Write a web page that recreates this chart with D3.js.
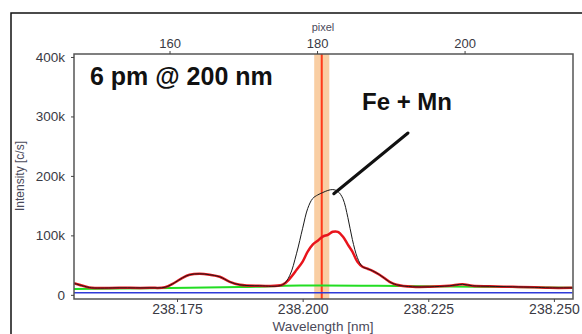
<!DOCTYPE html>
<html>
<head>
<meta charset="utf-8">
<script src="https://cdn.jsdelivr.net/npm/d3@7"></script>
<style>
    body { margin: 0; background: #fff; }
    svg { display: block; font-family: "Liberation Sans", Arial, sans-serif; }
</style>
</head>
<body>
<svg id="chart" width="582" height="334"></svg>
<script>
// wavelength grid (nm) shared by the black and red traces
const wavelengths = [
    238.1545, 238.1566, 238.1580, 238.1636, 238.1696, 238.1726, 238.1745, 238.1761,
    238.1775, 238.1795, 238.1815, 238.1835, 238.1855, 238.1875, 238.1914, 238.1960,
    238.1974, 238.1988, 238.2000, 238.2010, 238.2020, 238.2030, 238.2040, 238.2050,
    238.2060, 238.2070, 238.2080, 238.2090, 238.2099, 238.2109, 238.2119, 238.2129,
    238.2139, 238.2153, 238.2173, 238.2187, 238.2219, 238.2253, 238.2292, 238.2318,
    238.2338, 238.2372, 238.2418, 238.2461, 238.2491, 238.2537
];
// intensity in k c/s
const blackTrace = [
    19.4, 14.3, 11.8, 11.8, 11.8, 12.7, 20.3, 28.7,
    33.8, 35.4, 33.8, 30.4, 21.9, 16.9, 15.2, 16.9,
    32, 70, 112, 145, 162, 168, 172, 175.5,
    177, 174, 162, 130, 92.8, 62.4, 47.3, 43.9,
    40.5, 33.8, 21.9, 16.9, 13.5, 13.5, 15.2, 17.7,
    15.2, 14.3, 13.5, 12.7, 11.8, 11.8
];
const redTrace = [
    19.4, 14.3, 11.8, 11.8, 11.8, 12.7, 20.3, 28.7,
    33.8, 35.4, 33.8, 30.4, 21.9, 16.9, 15.2, 16.9,
    27, 42, 56, 72.6, 84.4, 91, 98, 101,
    106, 106, 98, 84.4, 72.6, 55.7, 47.3, 43.9,
    40.5, 33.8, 21.9, 16.9, 13.5, 13.5, 15.2, 17.7,
    15.2, 14.3, 13.5, 12.7, 11.8, 11.8
];
const greenWl = [238.1545, 238.1696, 238.1875, 238.1995, 238.2190, 238.2537];
const greenTrace = [10, 11, 13, 15.5, 15, 12];
const blueWl = [238.1545, 238.2537];
const blueTrace = [3.5, 3.5];

const xTicks = [238.175, 238.200, 238.225, 238.250];
const yTicks = [0, 100, 200, 300, 400];
const pixelTicks = [160, 180, 200];

// selected line marker
const markerWl = 238.2038;
const markerHalf = 0.0015;

const svg = d3.select('#chart');
const margin = { top: 54, right: 9, bottom: 35, left: 74 };
const width = 582 - margin.left - margin.right;
const height = 334 - margin.top - margin.bottom;

const x = d3.scaleLinear().domain([238.1545, 238.2538]).range([0, width]);
const y = d3.scaleLinear().domain([-7, 405]).range([height, 0]);
// pixel axis on top, linear with wavelength
const px = d3.scaleLinear().domain([147.05, 214.7]).range([0, width]);

// outer frame
svg.append('rect')
    .attr('x', 11).attr('y', 13).attr('width', 600).attr('height', 360)
    .attr('fill', 'none').attr('stroke', '#111').attr('stroke-width', 1.5);

const g = svg.append('g').attr('transform', `translate(${margin.left},${margin.top})`);

// marker band
g.append('rect')
    .attr('x', x(markerWl - markerHalf)).attr('y', 0)
    .attr('width', x(markerWl + markerHalf) - x(markerWl - markerHalf))
    .attr('height', height)
    .attr('fill', '#f8c593').attr('opacity', 0.85);
g.append('line')
    .attr('x1', x(markerWl)).attr('x2', x(markerWl))
    .attr('y1', 0).attr('y2', height)
    .attr('stroke', '#ff3a1a').attr('stroke-width', 2);

const line = d3.line().x(d => x(d[0])).y(d => y(d[1])).curve(d3.curveCatmullRom.alpha(0.5));

g.append('path').datum(blueWl.map((w, i) => [w, blueTrace[i]]))
    .attr('d', line).attr('fill', 'none').attr('stroke', '#2f3bd8').attr('stroke-width', 1.5);
g.append('path').datum(greenWl.map((w, i) => [w, greenTrace[i]]))
    .attr('d', line).attr('fill', 'none').attr('stroke', '#22dd22').attr('stroke-width', 2);
g.append('path').datum(wavelengths.map((w, i) => [w, redTrace[i]]))
    .attr('d', line).attr('fill', 'none').attr('stroke', '#e8141c').attr('stroke-width', 2.5);
g.append('path').datum(wavelengths.map((w, i) => [w, blackTrace[i]]))
    .attr('d', line).attr('fill', 'none').attr('stroke', '#1a1a1a').attr('stroke-width', 1);

// plot frame
g.append('rect')
    .attr('width', width).attr('height', height)
    .attr('fill', 'none').attr('stroke', '#555').attr('stroke-width', 1.5);

// axes
const styleAxis = (sel, size) => {
    sel.select('.domain').remove();
    sel.selectAll('.tick line').attr('stroke', '#444');
    sel.selectAll('.tick text').attr('fill', '#3a3a44').style('font-size', size + 'px');
};

g.append('g')
    .attr('transform', `translate(0,${height})`)
    .call(d3.axisBottom(x).tickValues(xTicks).tickFormat(d3.format('.3f')).tickSize(3).tickPadding(2))
    .call(s => styleAxis(s, 14));

g.append('g')
    .call(d3.axisLeft(y).tickValues(yTicks).tickFormat(d => d === 0 ? '0' : d + 'k').tickSize(3).tickPadding(6))
    .call(s => styleAxis(s, 13.5));

g.append('g')
    .call(d3.axisTop(px).tickValues(pixelTicks).tickSize(3).tickPadding(3))
    .call(s => styleAxis(s, 13));

// axis titles
svg.append('text')
    .attr('x', 323).attr('y', 31)
    .attr('text-anchor', 'middle').attr('fill', '#4a4a5a').style('font-size', '11px')
    .text('pixel');
svg.append('text')
    .attr('x', 323).attr('y', 331)
    .attr('text-anchor', 'middle').attr('fill', '#4a4a5a').style('font-size', '13.5px')
    .text('Wavelength [nm]');
svg.append('text')
    .attr('transform', 'translate(24,176) rotate(-90)')
    .attr('text-anchor', 'middle').attr('fill', '#4a4a5a').style('font-size', '12px')
    .text('Intensity [c/s]');

// annotations
svg.append('text')
    .attr('x', 90).attr('y', 85)
    .attr('font-weight', 'bold').attr('fill', '#111').style('font-size', '25px')
    .text('6 pm @ 200 nm');
svg.append('text')
    .attr('x', 362).attr('y', 110)
    .attr('font-weight', 'bold').attr('fill', '#111').style('font-size', '24px')
    .text('Fe + Mn');
svg.append('line')
    .attr('x1', 408).attr('y1', 133)
    .attr('x2', x(238.2062) + margin.left).attr('y2', y(170) + margin.top)
    .attr('stroke', '#111').attr('stroke-width', 3).attr('stroke-linecap', 'round');
</script>
</body>
</html>
